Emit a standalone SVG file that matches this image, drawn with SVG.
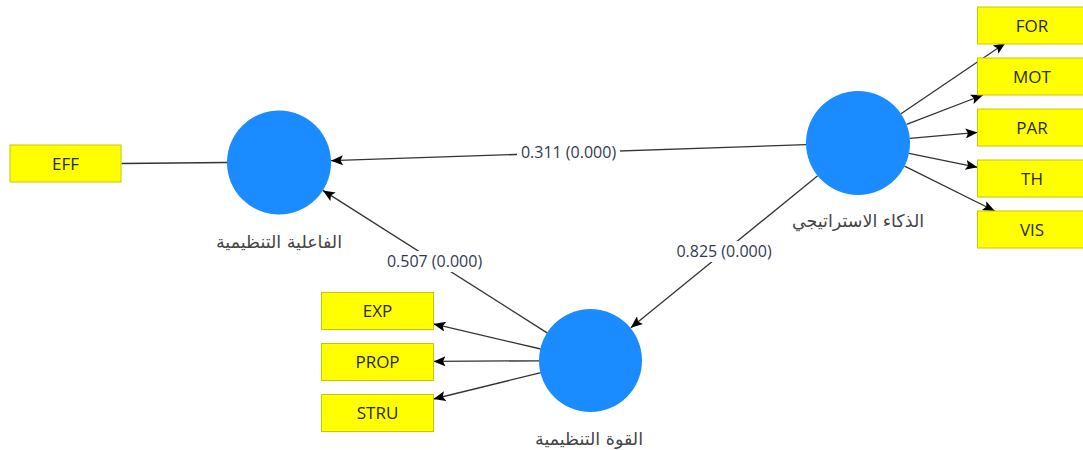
<svg xmlns="http://www.w3.org/2000/svg" width="1083" height="450" viewBox="0 0 1083 450">
<style>
.bg{fill:#ffffff}
.lv{fill:#1a8cff}
.ind rect{fill:#ffff00;stroke:#c8c800;stroke-width:1}
.ind text{font-family:"Open Sans","Liberation Sans",sans-serif;font-size:17px;fill:#2a2a10;text-anchor:middle}
.lvl{font-family:"DejaVu Sans",sans-serif;font-size:17.5px;fill:#444;text-anchor:middle}
.edge{stroke:#333;stroke-width:1.3;fill:none}
.arr{marker-end:url(#ah)}
.pl rect{fill:#ffffff}
.pl text{font-family:"Open Sans","Liberation Sans",sans-serif;font-size:16px;fill:#333a55;text-anchor:middle}
</style>
<defs>
<marker id="ah" viewBox="0 0 12 10" refX="12" refY="5" markerWidth="12" markerHeight="10" orient="auto" markerUnits="userSpaceOnUse">
<path d="M0,0 L12,5 L0,10 L2.5,5 z" fill="#000"/>
</marker>
</defs>
<rect class="bg" x="0" y="0" width="1083" height="450"/>
<g id="connectors">
<line class="edge" x1="227" y1="162.5" x2="121.5" y2="163.5"/>
<line class="edge arr" x1="806" y1="144.7" x2="331" y2="160.7"/>
<line class="edge arr" x1="547.5" y1="333.1" x2="322.9" y2="190.4"/>
<line class="edge arr" x1="817.7" y1="175.8" x2="630.8" y2="327.7"/>
<line class="edge arr" x1="901" y1="113.8" x2="1005.4" y2="43"/>
<line class="edge arr" x1="906.6" y1="124.4" x2="983" y2="95"/>
<line class="edge arr" x1="909.8" y1="138.4" x2="977.5" y2="132.4"/>
<line class="edge arr" x1="909" y1="153.4" x2="977.5" y2="167.3"/>
<line class="edge arr" x1="904.6" y1="166.2" x2="994.8" y2="211"/>
<line class="edge arr" x1="540.8" y1="349" x2="433.5" y2="323.9"/>
<line class="edge arr" x1="539.5" y1="360.8" x2="433.5" y2="361.4"/>
<line class="edge arr" x1="541" y1="372.6" x2="433.5" y2="399"/>
<g class="pl">
<rect x="517" y="142" width="103" height="21"/>
<text x="568.5" y="158">0.311 (0.000)</text>
<rect x="383" y="251" width="103" height="21"/>
<text x="434.5" y="267">0.507 (0.000)</text>
<rect x="673" y="241" width="103" height="21"/>
<text x="724" y="257">0.825 (0.000)</text>
</g>
</g>
<g id="lv-effectiveness">
<circle class="lv" cx="279" cy="162.5" r="52"/>
<text class="lvl" x="279" y="248">الفاعلية التنظيمية</text>
</g>
<g id="lv-strategic-intelligence">
<circle class="lv" cx="858" cy="143" r="52"/>
<text class="lvl" x="858" y="227">الذكاء الاستراتيجي</text>
</g>
<g id="lv-org-power">
<circle class="lv" cx="590.5" cy="360.5" r="51.5"/>
<text class="lvl" x="589" y="445">القوة التنظيمية</text>
</g>
<g id="ind-EFF" class="ind"><rect x="10" y="145" width="111" height="37"/><text x="65.5" y="169.5">EFF</text></g>
<g id="ind-FOR" class="ind"><rect x="977.5" y="7" width="110" height="37"/><text x="1032" y="31.5">FOR</text></g>
<g id="ind-MOT" class="ind"><rect x="977.5" y="58" width="110" height="37"/><text x="1032" y="82.5">MOT</text></g>
<g id="ind-PAR" class="ind"><rect x="977.5" y="109" width="110" height="37"/><text x="1032" y="133.5">PAR</text></g>
<g id="ind-TH" class="ind"><rect x="977.5" y="160" width="110" height="37"/><text x="1032" y="184.5">TH</text></g>
<g id="ind-VIS" class="ind"><rect x="977.5" y="211" width="110" height="37"/><text x="1032" y="235.5">VIS</text></g>
<g id="ind-EXP" class="ind"><rect x="321.5" y="292.5" width="112" height="37"/><text x="377.5" y="317">EXP</text></g>
<g id="ind-PROP" class="ind"><rect x="321.5" y="343.5" width="112" height="37"/><text x="377.5" y="368">PROP</text></g>
<g id="ind-STRU" class="ind"><rect x="321.5" y="394.5" width="112" height="37"/><text x="377.5" y="419">STRU</text></g>
</svg>
